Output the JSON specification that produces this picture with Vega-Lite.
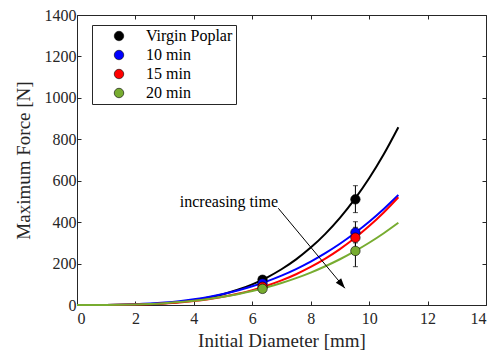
{
  "$schema": "https://vega.github.io/schema/vega-lite/v6.json",
  "width": 409,
  "height": 290,
  "autosize": {"type": "none"},
  "padding": {"left": 77, "top": 15, "right": 12, "bottom": 55},
  "config": {
    "font": "Liberation Serif",
    "view": {"stroke": null},
    "style": {"guide-label": {"font": "Liberation Serif"}, "guide-title": {"font": "Liberation Serif"}},
    "axis": {
      "grid": false,
      "domainColor": "#262626",
      "tickColor": "#262626",
      "labelColor": "#262626",
      "titleColor": "#262626",
      "labelFont": "Liberation Serif",
      "titleFont": "Liberation Serif",
      "labelFontSize": 16,
      "titleFontSize": 19,
      "titleFontWeight": "normal",
      "tickSize": -4,
      "domainWidth": 1,
      "tickWidth": 1
    }
  },
  "datasets": {
    "curves": [
      {"s": "Virgin Poplar", "x": 0, "y": 0}, {"s": "Virgin Poplar", "x": 1, "y": 0.17}, {"s": "Virgin Poplar", "x": 1.5, "y": 0.73}, {"s": "Virgin Poplar", "x": 2, "y": 2.0}, {"s": "Virgin Poplar", "x": 2.5, "y": 4.5}, {"s": "Virgin Poplar", "x": 3, "y": 8.5}, {"s": "Virgin Poplar", "x": 3.5, "y": 14.7}, {"s": "Virgin Poplar", "x": 4, "y": 23.7}, {"s": "Virgin Poplar", "x": 4.5, "y": 35.9}, {"s": "Virgin Poplar", "x": 5, "y": 52.2}, {"s": "Virgin Poplar", "x": 5.5, "y": 73.3}, {"s": "Virgin Poplar", "x": 6, "y": 99.8}, {"s": "Virgin Poplar", "x": 6.5, "y": 132.6}, {"s": "Virgin Poplar", "x": 7, "y": 172.5}, {"s": "Virgin Poplar", "x": 7.5, "y": 220.3}, {"s": "Virgin Poplar", "x": 8, "y": 277}, {"s": "Virgin Poplar", "x": 8.5, "y": 343.6}, {"s": "Virgin Poplar", "x": 9, "y": 420.8}, {"s": "Virgin Poplar", "x": 9.5, "y": 509.9}, {"s": "Virgin Poplar", "x": 10, "y": 611.8}, {"s": "Virgin Poplar", "x": 10.5, "y": 727.4}, {"s": "Virgin Poplar", "x": 11, "y": 858},
      {"s": "10 min", "x": 0, "y": 0}, {"s": "10 min", "x": 1, "y": 0.48}, {"s": "10 min", "x": 1.5, "y": 1.58}, {"s": "10 min", "x": 2, "y": 3.66}, {"s": "10 min", "x": 2.5, "y": 7.0}, {"s": "10 min", "x": 3, "y": 11.9}, {"s": "10 min", "x": 3.5, "y": 18.7}, {"s": "10 min", "x": 4, "y": 27.7}, {"s": "10 min", "x": 4.5, "y": 39.0}, {"s": "10 min", "x": 5, "y": 53.1}, {"s": "10 min", "x": 5.5, "y": 70.1}, {"s": "10 min", "x": 6, "y": 90.4}, {"s": "10 min", "x": 6.5, "y": 114.3}, {"s": "10 min", "x": 7, "y": 141.9}, {"s": "10 min", "x": 7.5, "y": 173.5}, {"s": "10 min", "x": 8, "y": 209.5}, {"s": "10 min", "x": 8.5, "y": 250.2}, {"s": "10 min", "x": 9, "y": 295.5}, {"s": "10 min", "x": 9.5, "y": 346.1}, {"s": "10 min", "x": 10, "y": 402}, {"s": "10 min", "x": 10.5, "y": 463.6}, {"s": "10 min", "x": 11, "y": 531},
      {"s": "15 min", "x": 0, "y": 0}, {"s": "15 min", "x": 1, "y": 0.2}, {"s": "15 min", "x": 1.5, "y": 0.77}, {"s": "15 min", "x": 2, "y": 1.97}, {"s": "15 min", "x": 2.5, "y": 4.09}, {"s": "15 min", "x": 3, "y": 7.4}, {"s": "15 min", "x": 3.5, "y": 12.3}, {"s": "15 min", "x": 4, "y": 19.0}, {"s": "15 min", "x": 4.5, "y": 28.0}, {"s": "15 min", "x": 5, "y": 39.5}, {"s": "15 min", "x": 5.5, "y": 53.9}, {"s": "15 min", "x": 6, "y": 71.7}, {"s": "15 min", "x": 6.5, "y": 93.1}, {"s": "15 min", "x": 7, "y": 118.6}, {"s": "15 min", "x": 7.5, "y": 148.6}, {"s": "15 min", "x": 8, "y": 183.5}, {"s": "15 min", "x": 8.5, "y": 223.8}, {"s": "15 min", "x": 9, "y": 269.8}, {"s": "15 min", "x": 9.5, "y": 321.9}, {"s": "15 min", "x": 10, "y": 380.8}, {"s": "15 min", "x": 10.5, "y": 446.6}, {"s": "15 min", "x": 11, "y": 520},
      {"s": "20 min", "x": 0, "y": 0}, {"s": "20 min", "x": 1, "y": 0.36}, {"s": "20 min", "x": 1.5, "y": 1.18}, {"s": "20 min", "x": 2, "y": 2.74}, {"s": "20 min", "x": 2.5, "y": 5.23}, {"s": "20 min", "x": 3, "y": 8.9}, {"s": "20 min", "x": 3.5, "y": 14.0}, {"s": "20 min", "x": 4, "y": 20.7}, {"s": "20 min", "x": 4.5, "y": 29.2}, {"s": "20 min", "x": 5, "y": 39.7}, {"s": "20 min", "x": 5.5, "y": 52.4}, {"s": "20 min", "x": 6, "y": 67.6}, {"s": "20 min", "x": 6.5, "y": 85.5}, {"s": "20 min", "x": 7, "y": 106.1}, {"s": "20 min", "x": 7.5, "y": 129.7}, {"s": "20 min", "x": 8, "y": 156.6}, {"s": "20 min", "x": 8.5, "y": 187.1}, {"s": "20 min", "x": 9, "y": 220.9}, {"s": "20 min", "x": 9.5, "y": 258.7}, {"s": "20 min", "x": 10, "y": 300.5}, {"s": "20 min", "x": 10.5, "y": 346.6}, {"s": "20 min", "x": 11, "y": 397}
    ],
    "points": [
      {"s": "Virgin Poplar", "x": 6.35, "y": 122, "lo": 108, "hi": 138},
      {"s": "Virgin Poplar", "x": 9.53, "y": 510, "lo": 446, "hi": 576},
      {"s": "10 min", "x": 6.35, "y": 104, "lo": 94, "hi": 116},
      {"s": "10 min", "x": 9.53, "y": 350, "lo": 300, "hi": 402},
      {"s": "15 min", "x": 6.35, "y": 88, "lo": 78, "hi": 98},
      {"s": "15 min", "x": 9.53, "y": 325, "lo": 275, "hi": 375},
      {"s": "20 min", "x": 6.35, "y": 78, "lo": 68, "hi": 88},
      {"s": "20 min", "x": 9.53, "y": 261, "lo": 185, "hi": 335}
    ],
    "note": [
      {"label": "increasing time", "tx": 5.2, "ty": 497, "x": 6.89, "y": 467, "x2": 9.17, "y2": 81}
    ]
  },
  "layer": [
    {
      "data": {"name": "curves"},
      "mark": {"type": "line", "strokeWidth": 2, "interpolate": "monotone"},
      "encoding": {
        "x": {"field": "x", "type": "quantitative", "scale": {"domain": [0, 14], "nice": false},
          "axis": {"values": [0, 2, 4, 6, 8, 10, 12, 14], "labelFont": "Liberation Serif", "labelPadding": 9, "titlePadding": 5, "orient": "bottom"},
          "title": "Initial Diameter [mm]"},
        "y": {"field": "y", "type": "quantitative", "scale": {"domain": [0, 1400], "nice": false},
          "axis": {"values": [0, 200, 400, 600, 800, 1000, 1200, 1400], "format": "d", "labelFont": "Liberation Serif", "labelPadding": 5, "titlePadding": 11, "orient": "left"},
          "title": "Maximum Force [N]"},
        "stroke": {"field": "s", "type": "nominal",
          "scale": {"domain": ["20 min", "15 min", "10 min", "Virgin Poplar"], "range": ["#77ac30", "#ff0000", "#0000ff", "#000000"]},
          "legend": null}
      }
    },
    {
      "data": {"values": [{"fx": 0, "fy": 0}]},
      "mark": {"type": "point", "opacity": 0},
      "encoding": {
        "x": {"field": "fx", "type": "quantitative",
          "axis": {"orient": "top", "values": [0, 2, 4, 6, 8, 10, 12, 14], "labels": false, "title": null}},
        "y": {"field": "fy", "type": "quantitative",
          "axis": {"orient": "right", "values": [0, 200, 400, 600, 800, 1000, 1200, 1400], "labels": false, "title": null}}
      }
    },
    {
      "data": {"name": "points"},
      "mark": {"type": "rule", "color": "#000000", "strokeWidth": 1},
      "encoding": {
        "x": {"field": "x", "type": "quantitative", "axis": null},
        "y": {"field": "lo", "type": "quantitative", "axis": null},
        "y2": {"field": "hi"}
      }
    },
    {
      "data": {"name": "points"},
      "mark": {"type": "tick", "orient": "horizontal", "color": "#000000", "thickness": 1, "size": 5},
      "encoding": {
        "x": {"field": "x", "type": "quantitative", "axis": null},
        "y": {"field": "lo", "type": "quantitative", "axis": null}
      }
    },
    {
      "data": {"name": "points"},
      "mark": {"type": "tick", "orient": "horizontal", "color": "#000000", "thickness": 1, "size": 5},
      "encoding": {
        "x": {"field": "x", "type": "quantitative", "axis": null},
        "y": {"field": "hi", "type": "quantitative", "axis": null}
      }
    },
    {
      "data": {"name": "points"},
      "mark": {"type": "point", "shape": "circle", "filled": true, "size": 90, "opacity": 1, "stroke": "#000000", "strokeWidth": 0.6},
      "encoding": {
        "x": {"field": "x", "type": "quantitative", "axis": null},
        "y": {"field": "y", "type": "quantitative", "axis": null},
        "fill": {"field": "s", "type": "nominal",
          "scale": {"domain": ["Virgin Poplar", "10 min", "15 min", "20 min"], "range": ["#000000", "#0000ff", "#ff0000", "#77ac30"]},
          "legend": {
            "title": null, "orient": "none", "legendX": 15, "legendY": 10,
            "symbolType": "circle", "symbolSize": 90, "symbolStrokeColor": "#000000", "symbolStrokeWidth": 0.6, "symbolOpacity": 1,
            "labelFont": "Liberation Serif", "labelFontSize": 16, "labelColor": "#000000",
            "strokeColor": "#262626", "fillColor": "#ffffff", "padding": 3, "rowPadding": 3,
            "symbolOffset": 16, "labelOffset": 19
          }
        }
      }
    },
    {
      "data": {"name": "note"},
      "mark": {"type": "rule", "color": "#000000", "strokeWidth": 1},
      "encoding": {
        "x": {"field": "x", "type": "quantitative", "axis": null},
        "y": {"field": "y", "type": "quantitative", "axis": null},
        "x2": {"field": "x2"},
        "y2": {"field": "y2"}
      }
    },
    {
      "data": {"name": "note"},
      "mark": {"type": "point", "shape": "M0,0 L-0.35,-1 L0.35,-1 Z", "filled": true, "color": "#000000", "size": 400, "opacity": 1, "angle": 320},
      "encoding": {
        "x": {"field": "x2", "type": "quantitative", "axis": null},
        "y": {"field": "y2", "type": "quantitative", "axis": null}
      }
    },
    {
      "data": {"name": "note"},
      "mark": {"type": "text", "font": "Liberation Serif", "fontSize": 16, "color": "#000000", "align": "center", "baseline": "middle"},
      "encoding": {
        "x": {"field": "tx", "type": "quantitative", "axis": null},
        "y": {"field": "ty", "type": "quantitative", "axis": null},
        "text": {"field": "label"}
      }
    }
  ],
  "resolve": {"axis": {"x": "independent", "y": "independent"}}
}
